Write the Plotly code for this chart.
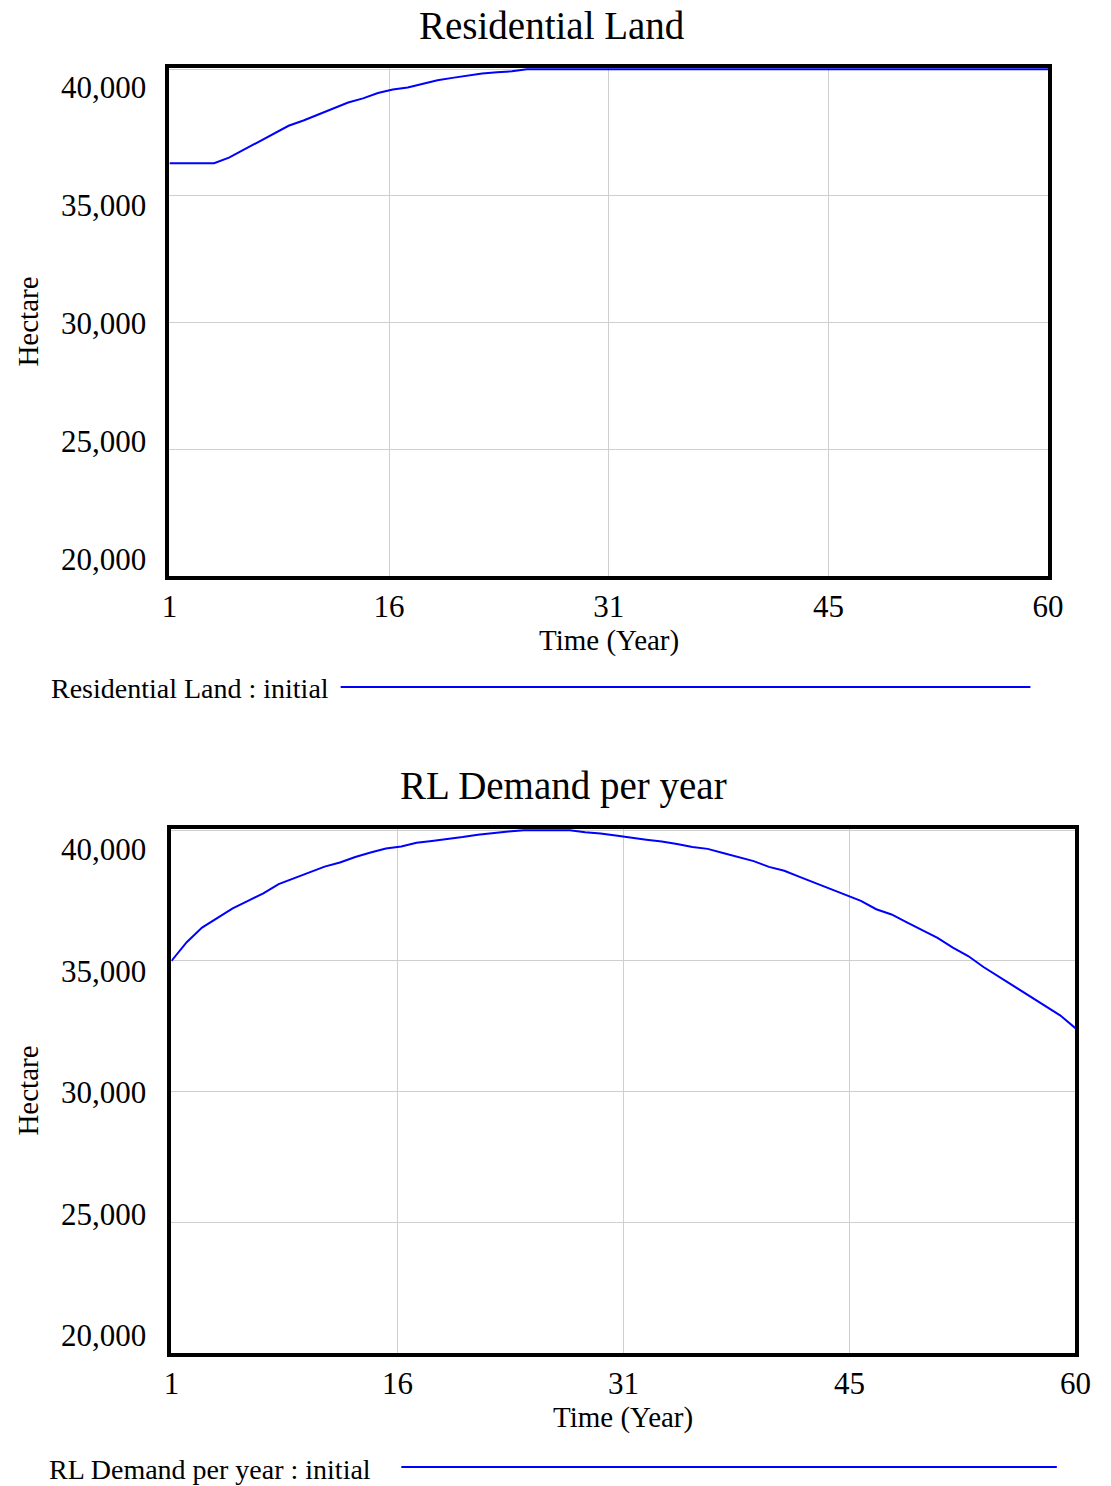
import plotly.graph_objects as go

W, H = 1111, 1486

# ---------------- data ----------------
years = list(range(1, 61))

residential_land = [
    36290, 36290, 36290, 36290, 36510, 36820, 37140, 37440, 37770, 37980,
    38200, 38450, 38690, 38850, 39060, 39200, 39280, 39430, 39570, 39660,
    39750, 39830, 39880, 39920, 40000, 40000, 40000, 40000, 40000, 40000,
    40000, 40000, 40000, 40000, 40000, 40000, 40000, 40000, 40000, 40000,
    40000, 40000, 40000, 40000, 40000, 40000, 40000, 40000, 40000, 40000,
    40000, 40000, 40000, 40000, 40000, 40000, 40000, 40000, 40000, 40000,
]

rl_demand = [
    35000, 35720, 36280, 36650, 37010, 37300, 37590, 37940, 38170, 38380,
    38610, 38770, 38980, 39150, 39300, 39380, 39520, 39590, 39660, 39740,
    39830, 39900, 39950, 40000, 40000, 40000, 40000, 39930, 39880, 39800,
    39710, 39640, 39570, 39480, 39360, 39290, 39130, 38980, 38820, 38600,
    38450, 38220, 37990, 37760, 37540, 37300, 36980, 36780, 36480, 36180,
    35880, 35510, 35190, 34770, 34400, 34030, 33670, 33300, 32920, 32430,
]

x_tick_vals = [1, 15.75, 30.5, 45.25, 60]
x_tick_text = ["1", "16", "31", "45", "60"]
y_tick_vals = [20000, 25000, 30000, 35000, 40000]
y_tick_text = ["20,000", "25,000", "30,000", "35,000", "40,000"]

titles = ["Residential Land", "RL Demand per year"]
legend_text = ["Residential Land : initial", "RL Demand per year : initial"]
x_title = "Time (Year)"
y_title = "Hectare"

# ---------------- styling helpers ----------------
FONT = "Liberation Serif, Times New Roman, serif"
BLUE = "#0000FF"
GRID = "#cfcfcf"


def px(x):
    return x / W


def py(y):
    return 1 - y / H


# plot rectangles in pixels (left, right, top, bottom)
rects = [(165, 1063, 68, 576), (167, 1091, 829, 1353)]
# Vensim places y labels evenly inside a slightly wider band
label_lo, label_hi = 19290, 40840

fig = go.Figure()
fig.add_trace(go.Scatter(x=years, y=residential_land, mode="lines",
                         line=dict(color=BLUE, width=2), xaxis="x", yaxis="y",
                         showlegend=False, hoverinfo="x+y"))
fig.add_trace(go.Scatter(x=years, y=rl_demand, mode="lines",
                         line=dict(color=BLUE, width=2), xaxis="x2", yaxis="y2",
                         showlegend=False, hoverinfo="x+y"))

layout = dict(
    width=W, height=H, autosize=False,
    margin=dict(l=0, r=0, t=0, b=0),
    paper_bgcolor="white", plot_bgcolor="white",
    font=dict(family=FONT, color="black"),
    showlegend=False,
)

annotations = []
shapes = []
for i, (l, r, t, b) in enumerate(rects):
    sfx = "" if i == 0 else "2"
    layout["xaxis" + sfx] = dict(
        domain=[px(l), px(r)], anchor="y" + sfx, range=[1, 60],
        tickvals=x_tick_vals, ticktext=x_tick_text, ticks="",
        tickfont=dict(size=31, family=FONT, color="black"),
        showgrid=True, gridcolor=GRID, gridwidth=1, zeroline=False,
        showline=True, linecolor="black", linewidth=3.5, mirror=True,
        layer="below traces", fixedrange=True,
    )
    layout["yaxis" + sfx] = dict(
        domain=[py(b), py(t)], anchor="x" + sfx, range=[20000, 40050],
        tickvals=y_tick_vals, showticklabels=False, ticks="",
        showgrid=True, gridcolor=GRID, gridwidth=1, zeroline=False,
        showline=True, linecolor="black", linewidth=3.5, mirror=True,
        layer="below traces", fixedrange=True,
    )
    # y tick labels (Vensim-style placement)
    for v, txt in zip(y_tick_vals, y_tick_text):
        frac = (v - label_lo) / (label_hi - label_lo)
        annotations.append(dict(
            text=txt, xref="paper", x=px(143), xanchor="right",
            yref="y%s domain" % sfx, y=frac, yanchor="middle",
            showarrow=False, font=dict(size=31, family=FONT, color="black")))
    # y axis title
    annotations.append(dict(
        text=y_title, textangle=-90, xref="paper", x=px(20), xanchor="center",
        yref="y%s domain" % sfx, y=0.5, yanchor="middle", showarrow=False,
        font=dict(size=29, family=FONT, color="black")))
    # x axis title
    annotations.append(dict(
        text=x_title, xref="x%s domain" % sfx, x=0.5, xanchor="center",
        yref="paper", y=py(b + 64), yanchor="middle", showarrow=False,
        font=dict(size=29, family=FONT, color="black")))

# chart titles
annotations.append(dict(text=titles[0], xref="paper", x=px(556), xanchor="center",
                        yref="paper", y=py(25), yanchor="middle", showarrow=False,
                        font=dict(size=39, family=FONT, color="black")))
annotations.append(dict(text=titles[1], xref="paper", x=px(568), xanchor="center",
                        yref="paper", y=py(786), yanchor="middle", showarrow=False,
                        font=dict(size=39, family=FONT, color="black")))

# legends (text + sample line)
leg = [(42, 688, 340, 1045, 687), (40, 1469, 402, 1072, 1467)]
for (tx, ty, lx0, lx1, ly), txt in zip(leg, legend_text):
    annotations.append(dict(text=txt, xref="paper", x=px(tx), xanchor="left",
                            yref="paper", y=py(ty), yanchor="middle", showarrow=False,
                            font=dict(size=28, family=FONT, color="black")))
    shapes.append(dict(type="line", xref="paper", yref="paper",
                       x0=px(lx0), x1=px(lx1), y0=py(ly), y1=py(ly),
                       line=dict(color=BLUE, width=2)))

layout["annotations"] = annotations
layout["shapes"] = shapes
fig.update_layout(**layout)

fig.write_html("out.html")
